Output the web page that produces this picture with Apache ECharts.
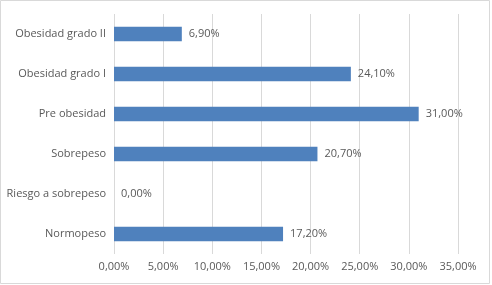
<!DOCTYPE html>
<html>
<head>
    <meta charset="utf-8">
    <title>IMC</title>
    <style>
        * { margin: 0; padding: 0; }
        html, body { width: 100%; height: 100%; background: #fff; }
    </style>
</head>
<body>
    <div id="main" style="width:492px;height:285px;"></div>
    <script src="https://cdn.jsdelivr.net/npm/echarts@6/dist/echarts.min.js"></script>
    <script>
        // categorias de abajo hacia arriba
        const categorias = ['Normopeso', 'Riesgo a sobrepeso', 'Sobrepeso', 'Pre obesidad', 'Obesidad grado I', 'Obesidad grado II'];
        const porcentajes = [17.2, 0, 20.7, 31.0, 24.1, 6.9];
        const ticksX = [0, 5, 10, 15, 20, 25, 30, 35];

        const fmt = v => v.toFixed(2).replace('.', ',') + '%';
        const FONT = 'Open Sans';
        const GRIS = '#595959';

        const chart = echarts.init(document.getElementById('main'));
        chart.setOption({
            animation: false,
            textStyle: { fontFamily: FONT },
            graphic: [{
                type: 'rect',
                shape: { x: 0.5, y: 0.5, width: 489, height: 283 },
                style: { fill: null, stroke: '#D9D9D9', lineWidth: 1 },
                silent: true
            }],
            grid: { left: 114, right: 34, top: 14, bottom: 31, containLabel: false },
            xAxis: {
                type: 'value',
                min: ticksX[0],
                max: ticksX[ticksX.length - 1],
                interval: 5,
                axisLine: { show: false },
                axisTick: { show: false },
                splitLine: { lineStyle: { color: '#D9D9D9' } },
                axisLabel: { color: GRIS, fontSize: 11, margin: 7, formatter: fmt }
            },
            yAxis: {
                type: 'category',
                data: categorias,
                axisLine: { show: false },
                axisTick: { show: false },
                axisLabel: { color: GRIS, fontSize: 11, margin: 8 }
            },
            series: [{
                type: 'bar',
                data: porcentajes,
                barCategoryGap: '64%',
                itemStyle: { color: '#4F81BD' },
                label: {
                    show: true,
                    position: 'right',
                    distance: 7,
                    color: GRIS,
                    fontSize: 11,
                    formatter: p => fmt(p.value)
                }
            }]
        });
    </script>
</body>
</html>
